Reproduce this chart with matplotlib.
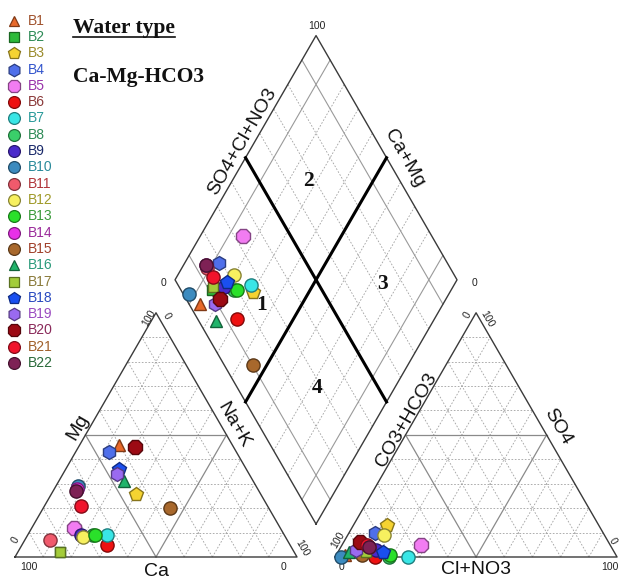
import numpy as np
import matplotlib
matplotlib.use("Agg")
import matplotlib.pyplot as plt
from matplotlib import colors as mcolors

# sample data (meq %)
samples = [f"B{i}" for i in range(1, 23)]
ca   = [40, 83, 44, 45, 73, 65, 63, 68, 72, 63, 84, 72, 67, 64, 35, 46, 83, 45, 47, 35, 66, 65]
mg   = [46,  2, 26, 43, 12,  5,  9,  9,  9, 29,  7,  8,  9, 28, 20, 31,  2, 36, 34, 45, 21, 27]
nak  = [14, 15, 30, 12, 15, 30, 28, 23, 19,  8,  9, 20, 24,  8, 45, 23, 15, 19, 19, 20, 13,  8]
cl   = [ 3,  9, 12,  9, 28, 14, 26, 19, 13,  2, 10, 13, 19, 10,  9,  4, 10, 16,  6,  6,  9, 10]
so4  = [ 1,  2, 13, 10,  5,  0,  0,  0,  3,  0,  4,  9,  1,  4,  1,  2,  2,  2,  3,  6,  5,  4]
hco3 = [96, 89, 75, 81, 67, 86, 74, 81, 84, 98, 86, 78, 80, 86, 90, 94, 88, 82, 91, 88, 86, 86]

markers = ['^', 's', 'p', 'h', '8', 'o', 'o', 'o', 'o', 'o', 'o',
           'o', 'o', 'o', 'o', '^', 's', 'p', 'h', '8', 'o', 'o']
face_colors = ['#E8692A', '#2DBA3A', '#F5D331', '#4F6FEA', '#F27CF2', '#EE1111',
               '#39E6E6', '#3ACF6A', '#4A2ACB', '#3C8BBF', '#F05A6C', '#F7F05F',
               '#2AE02A', '#E830E8', '#A8682C', '#20B46A', '#A3CC3A', '#1A4FF0',
               '#9A6AF0', '#9C0A14', '#F0142C', '#7E2155']
label_colors = ['#A0522D', '#2E8B57', '#9A8A2A', '#3355CC', '#9933AA', '#8B3A3A',
                '#2A9A9A', '#2E8B57', '#1A2A6A', '#2A8A9A', '#B0353A', '#A09A2A',
                '#3A9A3A', '#9A2A9A', '#A0402A', '#2A9A7A', '#8A7A3A', '#2A4AC0',
                '#9A4AC0', '#8A2A5A', '#A0602A', '#2A6A3A']

H = np.sqrt(3) / 2
GAP = 0.135
SCALE = 282.0          # pixels per unit side
OX, OY = 15.0, 557.0   # pixel position of the left triangle's left corner
BX, BY = 1 + GAP / 2, GAP * H   # bottom corner of the diamond


def P(px, py):
    # pixel position -> data position
    return (px - OX) / SCALE, (OY - py) / SCALE


def darker(c, f=0.55):
    r, g, b = mcolors.to_rgb(c)
    return (r * f, g * f, b * f)


fig = plt.figure(figsize=(6.19, 5.81), dpi=100)
ax = fig.add_axes([0, 0, 1, 1])
ax.set_xlim(-OX / SCALE, (619 - OX) / SCALE)
ax.set_ylim(-(581 - OY) / SCALE, OY / SCALE)
ax.axis('off')

grid_kw = dict(color='#a0a0a0', lw=0.6, ls=(0, (2, 2)), zorder=1)
half_kw = dict(color='#8a8a8a', lw=0.9, ls='-', zorder=1)
edge_kw = dict(color='#3a3a3a', lw=1.0, zorder=2)


def triangle(x0):
    for k in range(1, 10):
        f = k / 10
        kw = half_kw if k == 5 else grid_kw
        ax.plot([x0 + f / 2, x0 + 1 - f / 2], [f * H, f * H], **kw)
        ax.plot([x0 + f, x0 + f + (1 - f) / 2], [0, (1 - f) * H], **kw)
        ax.plot([x0 + 1 - f, x0 + (1 - f) / 2], [0, (1 - f) * H], **kw)
    ax.plot([x0, x0 + 1, x0 + 0.5, x0], [0, 0, H, 0], **edge_kw)


triangle(0)
triangle(1 + GAP)

# diamond
for k in range(1, 10):
    f = k / 10
    if k == 5:
        kw = dict(color='black', lw=2.2, zorder=3)
    elif k in (1, 9):
        kw = dict(color='#9a9a9a', lw=0.8, zorder=1)
    else:
        kw = grid_kw
    ax.plot([BX + 0.5 * f, BX + 0.5 * f - 0.5], [BY + H * f, BY + H * f + H], **kw)
    ax.plot([BX - 0.5 * f, BX - 0.5 * f + 0.5], [BY + H * f, BY + H * f + H], **kw)
ax.plot([BX, BX + 0.5, BX, BX - 0.5, BX], [BY, BY + H, BY + 2 * H, BY + H, BY], **edge_kw)

# data points
size_main = {'^': 8.5, 's': 7.5, 'p': 10, 'h': 10, '8': 10.5}
size_leg = {'^': 7.5, 's': 6.5, 'p': 9, 'h': 9, '8': 9.5}
for i, name in enumerate(samples):
    tc = ca[i] + mg[i] + nak[i]
    ta = cl[i] + so4[i] + hco3[i]
    xc = (nak[i] + mg[i] / 2) / tc
    yc = mg[i] / tc * H
    xa = 1 + GAP + (cl[i] + so4[i] / 2) / ta
    ya = so4[i] / ta * H
    a = (cl[i] + so4[i]) / ta
    b = (ca[i] + mg[i]) / tc
    xd = BX + 0.5 * (a - b)
    yd = BY + H * (a + b)
    ax.plot([xc, xa, xd], [yc, ya, yd], ls='none', marker=markers[i],
            ms=size_main.get(markers[i], 9.5),
            mfc=face_colors[i], mec=darker(face_colors[i]), mew=1.0, zorder=10 + i)

# legend
for i, name in enumerate(samples):
    y = 20.7 + 16.3 * i
    ax.plot(*P(14, y), marker=markers[i], ms=size_leg.get(markers[i], 8.5), mfc=face_colors[i],
            mec=darker(face_colors[i]), mew=0.9, ls='none', clip_on=False)
    ax.text(*P(28, y), name, fontsize=10, color=label_colors[i], ha='left', va='center',
            family='Liberation Sans')

# axis labels
sans = dict(family='Liberation Sans', color='#111111')
ax.text(*P(157, 572), 'Ca', fontsize=14, ha='center', va='center', **sans)
ax.text(*P(78, 427), 'Mg', fontsize=14, rotation=60, ha='center', va='center', **sans)
ax.text(*P(234, 425), 'Na+K', fontsize=14, rotation=-60, ha='center', va='center', **sans)
ax.text(*P(476, 570), 'Cl+NO3', fontsize=14, ha='center', va='center', **sans)
ax.text(*P(407, 420), 'CO3+HCO3', fontsize=14, rotation=60, ha='center', va='center', **sans)
ax.text(*P(558, 427), 'SO4', fontsize=14, rotation=-60, ha='center', va='center', **sans)
ax.text(*P(242, 142), 'SO4+Cl+NO3', fontsize=14, rotation=60, ha='center', va='center', **sans)
ax.text(*P(404, 158), 'Ca+Mg', fontsize=14, rotation=-60, ha='center', va='center', **sans)

# tick labels
tick = dict(family='Liberation Sans', fontsize=7.5, color='#222222', ha='center', va='center')
ax.text(*P(29, 567), '100', **tick)
ax.text(*P(284, 567), '0', **tick)
ax.text(*P(15, 540), '0', rotation=60, **tick)
ax.text(*P(149, 318), '100', rotation=60, **tick)
ax.text(*P(167, 316), '0', rotation=-60, **tick)
ax.text(*P(302, 548), '100', rotation=-60, **tick)
ax.text(*P(342, 567), '0', **tick)
ax.text(*P(610, 567), '100', **tick)
ax.text(*P(338, 540), '100', rotation=60, **tick)
ax.text(*P(467, 315), '0', rotation=60, **tick)
ax.text(*P(487, 319), '100', rotation=-60, **tick)
ax.text(*P(613, 541), '0', rotation=-60, **tick)
ax.text(*P(164, 283), '0', **tick)
ax.text(*P(475, 283), '0', **tick)
ax.text(*P(317, 26), '100', **tick)

# region numbers and water type
serif = dict(family='Liberation Serif', fontweight='bold', color='#111111')
for lab, (px, py) in zip(['1', '2', '3', '4'], [(262, 305), (308, 181), (383, 284), (317, 388)]):
    ax.text(*P(px, py), lab, fontsize=15.5, ha='center', va='center', **serif)

wt = ax.text(*P(73, 28), 'Water type', fontsize=15.5, ha='left', va='center', **serif)
ax.text(*P(73, 77), 'Ca-Mg-HCO3', fontsize=15.5, ha='left', va='center', **serif)

fig.canvas.draw()
bb = wt.get_window_extent()
inv = ax.transData.inverted()
(x0, y0), (x1, _) = inv.transform([(bb.x0, bb.y0 + 1), (bb.x1, bb.y0 + 1)])
ax.plot([x0, x1], [y0, y0], color='#111111', lw=1.2)

fig.savefig('out.png', dpi=100)
